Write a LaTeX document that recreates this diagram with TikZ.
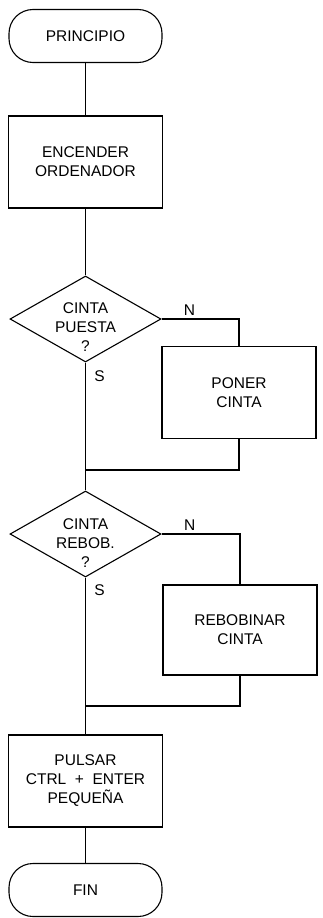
\documentclass[tikz,border=0pt]{standalone}
\usepackage{fontspec}
\setmainfont{Liberation Sans}
\usetikzlibrary{shapes.geometric}

\begin{document}
\begin{tikzpicture}[x=1pt, y=-1pt, line width=1.1pt, font=\fontsize{15.5}{19}\selectfont]
    \useasboundingbox (0,0) rectangle (322,918);
    {
        \tikzset{every node/.style = {draw, align=center, inner sep=0pt}}
        \tikzset{terminal/.style = {rectangle, rounded corners=24pt, minimum width=153pt, minimum height=53pt}}
        \tikzset{process/.style = {rectangle, minimum width=154pt, minimum height=92pt}}
        \tikzset{decision/.style = {diamond, minimum width=151pt, minimum height=86pt}}

        \node[terminal] (principio) at (85.5, 36) {PRINCIPIO};
        \node[process] (encender) at (85.5, 162) {ENCENDER\\ORDENADOR};
        \node[decision, label={[draw=none, align=center, yshift=-8pt]center:{CINTA\\PUESTA\\?}}] (puesta) at (85.5, 319) {};
        \node[process] (poner) at (239, 392.5) {PONER\\CINTA};
        \node[decision, label={[draw=none, align=center, yshift=-9pt]center:{CINTA\\REBOB.\\?}}] (rebob) at (85.5, 534) {};
        \node[process, minimum height=90pt] (rebobinar) at (240, 630) {REBOBINAR\\CINTA};
        \node[process] (pulsar) at (85.5, 781) {PULSAR\\CTRL \;+\; ENTER\\PEQUEÑA};
        \node[terminal] (fin) at (85.5, 890) {FIN};
    }
        \coordinate (j1) at (85.5, 470);
        \coordinate (j2) at (85.5, 706);

        \draw (principio) -- (encender);
        \draw (encender) -- (puesta);
        \draw (puesta.east) -| node[above, pos=0.18] {N} (poner);
        \draw (puesta.south) -- node[right, pos=0.13, xshift=5pt] {S} (j1) -- (rebob);
        \draw (poner) |- (j1);
        \draw (rebob.east) -| node[above, pos=0.18] {N} (rebobinar);
        \draw (rebob.south) -- node[right, pos=0.1, xshift=5pt] {S} (j2) -- (pulsar);
        \draw (rebobinar) |- (j2);
        \draw (pulsar) -- (fin);
        %\draw (j1) -- (j2);

    \end{tikzpicture}
\end{document}
